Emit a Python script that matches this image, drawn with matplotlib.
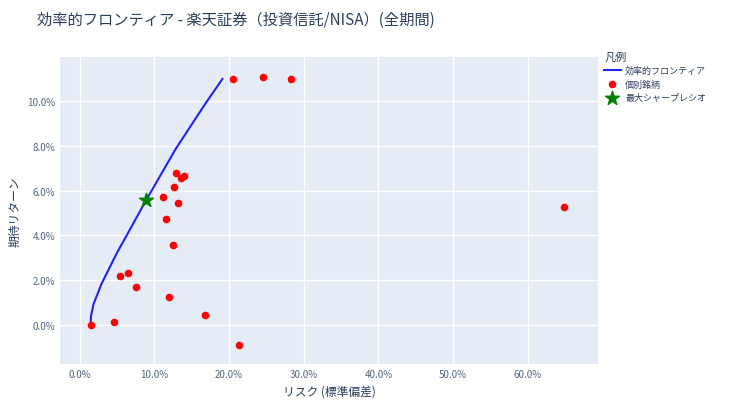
import matplotlib
matplotlib.use("Agg")
import matplotlib.pyplot as plt
from matplotlib.ticker import FuncFormatter

plt.rcParams['font.family'] = ['Noto Sans CJK JP', 'DejaVu Sans']

frontier_risk = [1.46, 1.5, 1.85, 2.9, 4.9, 8.9, 12.85, 16.8, 19.1]
frontier_ret = [0.0, 0.4, 0.94, 1.83, 3.17, 5.58, 7.86, 9.87, 10.98]

stock_risk = [1.46, 20.5, 24.6, 28.3, 12.85, 13.5, 14.0, 12.6, 11.1, 13.1, 11.5, 12.45,
              5.4, 6.4, 7.55, 11.9, 4.6, 16.8, 21.3, 64.8]
stock_ret = [0.0, 11.0, 11.07, 11.0, 6.79, 6.56, 6.65, 6.16, 5.71, 5.45, 4.73, 3.57,
             2.19, 2.32, 1.70, 1.25, 0.13, 0.45, -0.89, 5.27]

sharpe_risk = [8.9]
sharpe_ret = [5.58]

x_ticks = [0, 10, 20, 30, 40, 50, 60]
y_ticks = [0, 2, 4, 6, 8, 10]

fig = plt.figure(figsize=(7.3, 4.1), dpi=100)
ax = fig.add_axes([60/730, 45/410, 538/730, 307/410])
ax.set_facecolor('#e5ecf6')
for s in ax.spines.values():
    s.set_visible(False)
ax.grid(True, color='white', linewidth=1)
ax.set_axisbelow(True)
ax.tick_params(length=0, labelsize=7, colors='#506784')

ax.plot(frontier_risk, frontier_ret, color='#2222ff', lw=1.5, label='効率的フロンティア', zorder=3)
ax.scatter(stock_risk, stock_ret, color='red', s=20, label='個別銘柄', zorder=4)
ax.scatter(sharpe_risk, sharpe_ret, color='green', marker='*', s=110, label='最大シャープレシオ', zorder=5)

ax.set_xlim(-2.65, 69.4)
ax.set_ylim(-1.74, 11.96)
ax.set_xticks(x_ticks)
ax.set_yticks(y_ticks)
ax.xaxis.set_major_formatter(FuncFormatter(lambda v, p: f"{v:.1f}%"))
ax.yaxis.set_major_formatter(FuncFormatter(lambda v, p: f"{v:.1f}%"))
ax.set_xlabel('リスク (標準偏差)', fontsize=8.5, color='#2a3f5f')
ax.set_ylabel('期待リターン', fontsize=8.5, color='#2a3f5f')

fig.text(37/730, 1 - 20/410, '効率的フロンティア - 楽天証券（投資信託/NISA）(全期間)',
         fontsize=11, color='#2a3f5f', va='center')

leg = ax.legend(loc='upper left', bbox_to_anchor=(1.0, 1.04), frameon=False,
                title='凡例', fontsize=6.5, title_fontsize=8, alignment='left',
                handlelength=1.8, handletextpad=0.5, borderpad=0.2, labelcolor='#2a3f5f')
leg.get_title().set_color('#2a3f5f')

fig.savefig('out.png', dpi=100)
